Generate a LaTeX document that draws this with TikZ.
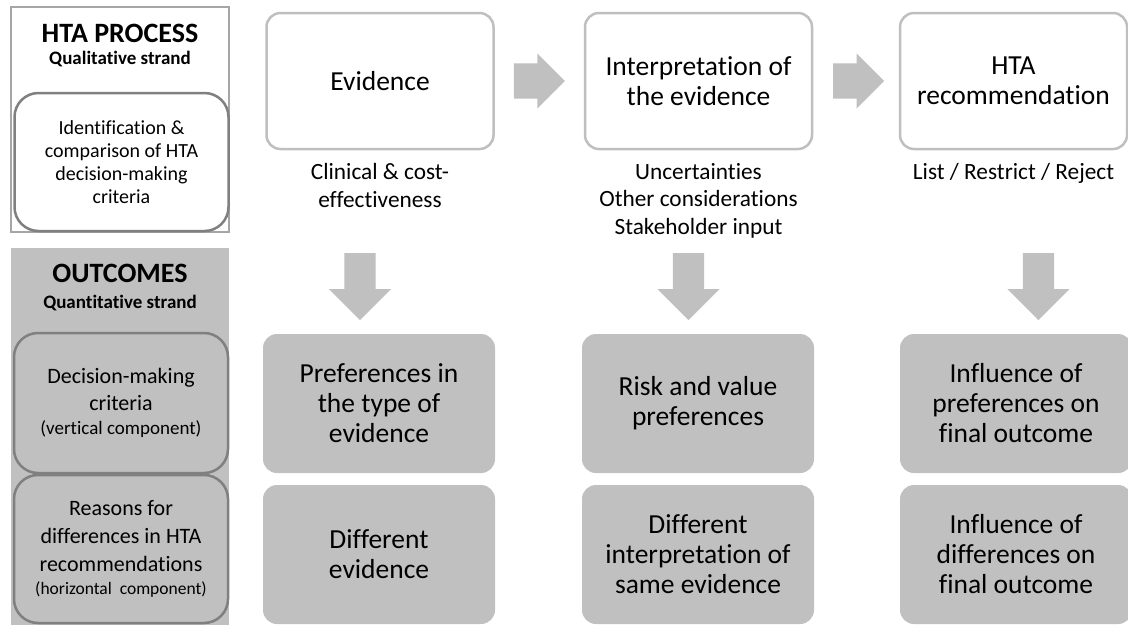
\documentclass[tikz,border=0pt]{standalone}
\usepackage{fontspec}
\setmainfont{Carlito}[Ligatures=NoCommon]
\usetikzlibrary{positioning,shapes.arrows,calc}
\definecolor{boxgray}{HTML}{C0C0C0}
\definecolor{edgegray}{HTML}{BFBFBF}
\definecolor{paneledge}{HTML}{A6A6A6}
\definecolor{darkedge}{HTML}{808080}

\begin{document}
\begin{tikzpicture}[x=1pt, y=-1pt,
    stagebox/.style={draw=edgegray, line width=2.5pt, fill=white, rounded corners=14pt,
      minimum width=227pt, minimum height=136pt, align=center,
      font=\fontsize{27.5}{30}\selectfont},
    outbox/.style={fill=boxgray, rounded corners=14pt, minimum width=232pt,
      minimum height=139pt, align=center, font=\fontsize{27.5}{30}\selectfont},
    subtext/.style={inner sep=0pt, align=center, font=\fontsize{23.3}{27.5}\selectfont},
    sidebox/.style={draw=darkedge, line width=2.5pt, rounded corners=24pt,
      minimum width=214pt, align=center},
    rightarrow/.style={single arrow, fill=boxgray, inner xsep=0pt, inner ysep=17.5pt,
      single arrow head extend=10pt, minimum height=51pt, anchor=tail},
    downarrow/.style={single arrow, fill=boxgray, inner sep=15.5pt,
      single arrow head extend=15.5pt, minimum height=67pt, shape border rotate=270,
      anchor=tail}]
  \useasboundingbox (0,0) rectangle (1128,625);
  \fill[white] (0,0) rectangle (1128,625);

  % left side
  \node[draw=paneledge, line width=2.5pt, fill=white, minimum width=218pt,
        minimum height=225pt] (procpanel) at (120,119.5) {};
  \node[font=\bfseries\fontsize{28}{30}\selectfont] (proctitle) at (120,33) {HTA PROCESS};
  \node[font=\bfseries\fontsize{19}{22}\selectfont] (procsub) at (120,59) {Qualitative strand};
  \node[sidebox, fill=white, minimum height=138pt, font=\fontsize{20}{23}\selectfont]
        (criteria) at (121.5,162) {Identification \&\\comparison of HTA\\decision-making\\criteria};

  \node[fill=boxgray, minimum width=218pt, minimum height=377pt] (outpanel) at (120,436.5) {};
  \node[font=\bfseries\fontsize{28}{30}\selectfont] (outtitle) at (120,273) {OUTCOMES};
  \node[font=\bfseries\fontsize{19}{22}\selectfont] (outsub) at (120,303) {Quantitative strand};
  \node[sidebox, fill=boxgray, minimum height=140pt, font=\fontsize{22}{27}\selectfont]
        (vertcomp) at (121,403) {Decision-making\\criteria\\[-3pt]{\fontsize{19}{22}\selectfont(vertical component)}};
  \node[sidebox, fill=boxgray, minimum height=148pt, font=\fontsize{22}{28}\selectfont]
        (horcomp) at (121,549) {Reasons for\\differences in HTA\\recommendations\\[-5pt]{\fontsize{17.5}{22}\selectfont(horizontal\ \ component)}};

  % process steps
  \node[stagebox] (evid) at (380,81) {Evidence};
  \node[stagebox] (interp) at (698.5,81) {Interpretation of\\the evidence};
  \node[stagebox] (recom) at (1013.5,81) {HTA\\recommendation};

  \node[subtext, below=13pt of evid] (evidnote) {Clinical \& cost-\\effectiveness};
  \node[subtext, below=13pt of interp] (interpnote) {Uncertainties\\Other considerations\\Stakeholder input};
  \node[subtext, below=13pt of recom] (recomnote) {List / Restrict / Reject};

  \node[rightarrow] (arr1) at ($(evid.east)!0.5!(interp.west)+(-25.5,0)$) {};
  \node[rightarrow] (arr2) at ($(interp.east)!0.5!(recom.west)+(-23,0)$) {};

  \foreach \x [count=\i] in {360,688.5,1038.5}
    \node[downarrow] (darr\i) at (\x,253) {};

  % outcomes
  \node[outbox] (prefev) at (379,403.5) {Preferences in\\the type of\\evidence};
  \node[outbox] (prefrisk) at (698,403.5) {Risk and value\\preferences};
  \node[outbox] (prefinfl) at (1016,403.5) {Influence of\\preferences on\\final outcome};
  \node[outbox] (diffev) at (379,554.5) {Different\\evidence};
  \node[outbox] (diffinterp) at (698,554.5) {Different\\interpretation of\\same evidence};
  \node[outbox] (diffinfl) at (1016,554.5) {Influence of\\differences on\\final outcome};
\end{tikzpicture}
\end{document}
